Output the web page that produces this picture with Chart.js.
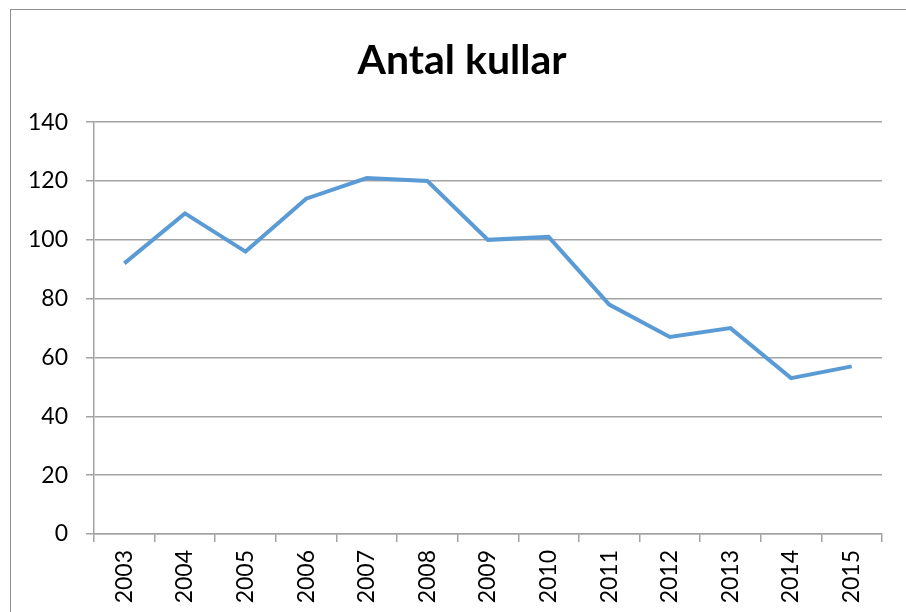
<!DOCTYPE html>
<html>
<head>
<meta charset="utf-8">
<script src="https://cdn.jsdelivr.net/npm/chart.js@4/dist/chart.umd.min.js"></script>
<style>
    html, body { margin: 0; padding: 0; background: #ffffff; overflow: hidden; }
    #frame {
        position: absolute; left: 10px; top: 9px; width: 1000px; height: 700px;
        border: 1.5px solid #8f8f8f;
    }
    #wrap { position: absolute; left: 0; top: 0; width: 906px; height: 612px; }
</style>
</head>
<body>
<div id="frame"></div>
<div id="wrap"><canvas id="kullChart"></canvas></div>
<script>
// Antal kullar per år

const years = ['2003', '2004', '2005', '2006', '2007', '2008', '2009',
               '2010', '2011', '2012', '2013', '2014', '2015'];
const kullar = [92, 109, 96, 114, 121, 120, 100, 101, 78, 67, 70, 53, 57];
const yTicks = [0, 20, 40, 60, 80, 100, 120, 140];

const FONT = 'Lato, "Open Sans", sans-serif';
const GRID = '#a3a3a3';

// --- nudge the title to the right, like in the original ---
const titleShift = {
    id: 'titleShift',
    afterLayout(chart) {
        if (chart.titleBlock) chart.titleBlock.left += 42;
    }
};

const ctx = document.getElementById('kullChart').getContext('2d');

new Chart(ctx, {
    type: 'line',
    data: {
        labels: years,
        datasets: [{
            label: 'Antal kullar',
            data: kullar,
            borderColor: '#5b9bd5',
            borderWidth: 4,
            pointRadius: 0,
            tension: 0,
            fill: false
        }]
    },
    plugins: [titleShift],
    options: {
        responsive: true,
        maintainAspectRatio: false,
        animation: false,
        layout: { padding: { left: 0, right: 24, top: 0, bottom: 0 } },
        scales: {
            x: {
                offset: true,
                grid: {
                    offset: true,
                    drawOnChartArea: false,
                    drawTicks: true,
                    tickLength: 8,
                    color: GRID,
                    lineWidth: 1.5
                },
                border: { color: GRID, width: 1.5 },
                ticks: {
                    color: '#000000',
                    font: { family: FONT, size: 23 },
                    minRotation: 90,
                    maxRotation: 90,
                    padding: 8,
                    autoSkip: false
                },
                afterFit: (scale) => { scale.height = 78; }
            },
            y: {
                min: 0,
                max: 140,
                afterBuildTicks: (scale) => {
                    scale.ticks = yTicks.map(v => ({ value: v }));
                },
                grid: {
                    color: GRID,
                    lineWidth: 1.5,
                    tickLength: 8
                },
                border: { color: GRID, width: 1.5 },
                ticks: {
                    color: '#000000',
                    font: { family: FONT, size: 23 },
                    padding: 18
                },
                afterFit: (scale) => { scale.width = 94; }
            }
        },
        plugins: {
            legend: { display: false },
            tooltip: { enabled: false },
            title: {
                display: true,
                text: 'Antal kullar',
                color: '#000000',
                font: { family: FONT, size: 41, weight: 'bold' },
                padding: { top: 36, bottom: 37 }
            }
        }
    }
});
</script>
</body>
</html>
